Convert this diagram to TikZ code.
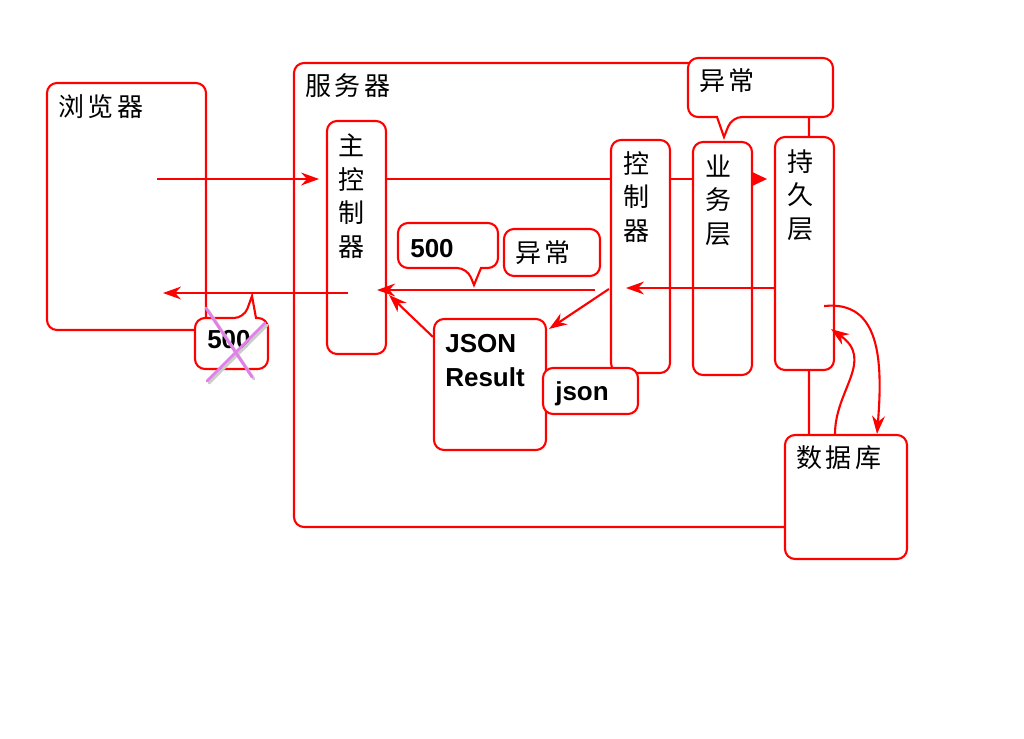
\documentclass[tikz,border=0pt]{standalone}
\usepackage{fontspec}
\setmainfont{Liberation Sans}
\newfontfamily\cjk[LetterSpace=14]{Noto Sans CJK SC}
\usetikzlibrary{arrows.meta, calc, fit}

\definecolor{orchid}{RGB}{224,128,232}

\tikzset{
    box/.style={draw=red, line width=1.5pt, rounded corners=0.25cm, fill=white, inner sep=0pt},
    link/.style={draw=red, line width=1.5pt},
    arr/.style={link, -{Stealth[length=0.45cm, width=0.32cm]}},
    cn/.style={font=\cjk\fontsize{18.5}{23.8}\selectfont, align=center, inner sep=0pt},
    en/.style={font=\bfseries\fontsize{18.5}{24}\selectfont, inner sep=0pt},
    cross/.style={draw=orchid, line width=2pt, line cap=round},
}

\begin{document}
\begin{tikzpicture}[x=0.025cm, y=-0.025cm]

    \useasboundingbox (0,0) rectangle (1024,738);

    \node[box, fit={(294,63) (809,527)}] (server) {};
    \node[box, fit={(47,83) (206,330)}] (browser) {};
    \node[cn] (serverlbl) at (348,86) {服务器};
    \node[cn] (browserlbl) at (101,107) {浏览器};

    \draw[link, fill=white] (724,137) -- (717,117) [rounded corners=0.25cm] -- (688,117) -- (688,58) -- (833,58) -- (833,117) -- (732,117) [sharp corners] -- cycle;
    \node[cn] (errtop) at (727,81) {异常};

    \node[box, fit={(327,121) (386,354)}] (mainctl) {};
    \node[box, fit={(611,140) (670,373)}] (ctl) {};
    \node[box, fit={(693,142) (752,375)}] (service) {};
    \node[box, fit={(775,137) (834,370)}] (persist) {};
    \node[box, fit={(785,435) (907,559)}] (db) {};
    \node[box, fit={(434,319) (546,450)}] (jsonres) {};
    \node[box, fit={(543,368) (638,414)}] (jsonbox) {};
    \node[box, fit={(504,229) (600,276)}] (errbox) {};

    \node[cn] (mainlbl) at (352,196) {主\\控\\制\\器};
    \node[cn] (ctllbl) at (636,197) {控\\制\\器};
    \node[cn] (servicelbl) at (718,200) {业\\务\\层};
    \node[cn] (persistlbl) at (800,195) {持\\久\\层};
    \node[cn] (dblbl) at (839,458) {数据库};
    \node[cn] (errlbl) at (543,253) {异常};
    \node[en, anchor=base west] (jsonlbl) at (445,352) {JSON};
    \node[en, anchor=base west] (resultlbl) at (445,386) {Result};
    \node[en, anchor=base west] (jsonsmall) at (555,400) {json};

    % 500 callouts
    \draw[link, fill=white] (474,285) -- (481,268) [rounded corners=0.25cm] -- (498,268) -- (498,223) -- (398,223) -- (398,268) -- (467,268) [sharp corners] -- cycle;
    \node[en, anchor=base west] (err500) at (410,257) {500};
    \draw[link, fill=white] (252,296) -- (256,318) [rounded corners=0.25cm] -- (268,318) -- (268,369) -- (195,369) -- (195,318) -- (244,318) [sharp corners] -- cycle;
    \node[en, anchor=base west] (lost500) at (207,348) {500};
    \draw[cross, draw=gray!40] (208,310) -- (254,379);
    \draw[cross, draw=gray!40] (267,325) -- (209,383);
    \draw[cross] (206,308) -- (252,377);
    \draw[cross] (265,323) -- (207,381);

    \coordinate (reqin) at (157,179);
    \coordinate (resout) at (163,293);
    \coordinate (retlvl) at (0,288);

    % request
    \draw[arr, shorten >=0.17cm] (reqin) -- (reqin -| mainctl.west);
    \draw[link] (mainctl.east |- reqin) -- (ctl.west |- reqin);
    \draw[link] (ctl.east |- reqin) -- (service.west |- reqin);
    \draw[link, -{Triangle[length=0.4cm, width=0.36cm]}, shorten >=0.17cm] (service.east |- reqin) -- (persist.west |- reqin);

    % response
    \draw[arr] ($(persist.west |- retlvl)+(2,0)$) -- ($(ctl.west |- retlvl)+(16,0)$);
    \draw[arr] ($(ctl.west |- retlvl)+(-15,2)$) -- ($(mainctl.east |- retlvl)+(-10,2)$);
    \draw[arr] ($(ctl.west |- retlvl)+(-1,1)$) -- ($(jsonres.north east)+(2,11)$);
    \draw[arr] ($(jsonres.north west)+(0,19)$) -- ($(mainctl.east |- retlvl)+(2,7)$);
    \draw[arr] ($(mainctl.west |- resout)+(22,0)$) -- (resout);

    \draw[arr] ($(persist.south east)+(-11,-65)$) .. controls (880,300) and (883,360) .. ($(db.north)+(31,0)$);
    \draw[arr] ($(db.north)+(-11,0)$) .. controls (835,390) and (875,360) .. ($(persist.south east)+(-4,-42)$);

\end{tikzpicture}
\end{document}
